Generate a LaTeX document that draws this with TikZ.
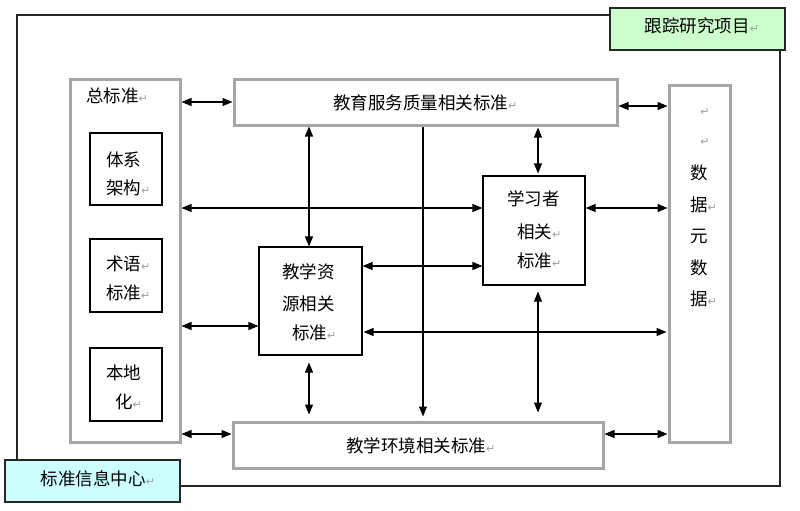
\documentclass[tikz,border=0pt]{standalone}
\usepackage{fontspec}
\newfontfamily\cjk{Noto Sans CJK SC}
\newfontfamily\dvs{DejaVu Sans}
\usetikzlibrary{arrows.meta}
\newcommand{\rt}{{\dvs\color{gray!75}\fontsize{11}{11}\selectfont ↵}}
\definecolor{boxgray}{HTML}{A6A6A6}
\definecolor{lgreen}{HTML}{CCFFCC}
\definecolor{lcyan}{HTML}{CCFFFF}
\begin{document}
\begin{tikzpicture}[x=1pt,y=-1pt,
  every node/.style={font=\cjk\fontsize{17.5}{17.5}\selectfont},
  txt/.style={inner sep=0pt, anchor=west},
  ctxt/.style={inner sep=0pt},
  graybox/.style={draw=boxgray, line width=3pt, fill=white, inner sep=0pt},
  blackbox/.style={draw=black, line width=1.1pt, fill=white, inner sep=0pt},
  tagbox/.style={draw=black!85, line width=1.2pt, inner sep=0pt, minimum width=175pt, minimum height=42pt},
  frame/.style={draw=black!85, line width=1.3pt, inner sep=0pt},
  dbl/.style={{Triangle[length=10pt,width=8pt]}-{Triangle[length=10pt,width=8pt]}, line width=1.1pt},
  sgl/.style={-{Triangle[length=10pt,width=8pt]}, line width=1.1pt}
]
\useasboundingbox (0,0) rectangle (800,511);
% outer frame
\node[frame, minimum width=763pt, minimum height=471pt] (frame) at (398.5,250.5) {};
% tags
\node[tagbox, fill=lgreen] (track) at (697.5,29) {};
\node[ctxt] (tracktxt) at (702,26) {跟踪研究项目\rt};
\node[tagbox, fill=lcyan] (center) at (92.5,481) {};
\node[ctxt] (centertxt) at (98,479) {标准信息中心\rt};

% main boxes
\node[graybox, minimum width=110pt, minimum height=363pt] (total) at (125,260.5) {};
\node[graybox, minimum width=383pt, minimum height=46pt] (top) at (425.5,102) {};
\node[graybox, minimum width=370pt, minimum height=46pt] (env) at (418,445) {};
\node[graybox, minimum width=61pt, minimum height=357pt] (data) at (699.5,263.5) {};
\node[blackbox, minimum width=102pt, minimum height=109pt] (learner) at (534,230.5) {};
\node[blackbox, minimum width=103pt, minimum height=108pt] (res) at (310.5,301) {};
\node[blackbox, minimum width=72pt, minimum height=72pt] (arch) at (126,169) {};
\node[blackbox, minimum width=72pt, minimum height=73pt] (term) at (126,275.5) {};
\node[blackbox, minimum width=72pt, minimum height=73pt] (local) at (126,384.5) {};

% texts
\node[txt] (t1) at (86,96) {总标准\rt};
\node[txt] (a1) at (106,160) {体系};
\node[txt] (a2) at (106,188) {架构\rt};
\node[txt] (s1) at (106,264) {术语\rt};
\node[txt] (s2) at (106,293) {标准\rt};
\node[txt] (l1) at (106,373) {本地};
\node[txt] (l2) at (115,402) {化\rt};
\node[txt] (toptxt) at (333,103) {教育服务质量相关标准\rt};
\node[txt] (envtxt) at (346,446) {教学环境相关标准\rt};
\node[txt] (le1) at (507,199) {学习者};
\node[txt] (le2) at (517,232) {相关\rt};
\node[txt] (le3) at (517,261) {标准\rt};
\node[txt] (r1) at (282,272) {教学资};
\node[txt] (r2) at (282,304) {源相关};
\node[txt] (r3) at (292,333) {标准\rt};
\node[ctxt] (d0) at (705,112) {\rt};
\node[ctxt] (d00) at (705,142) {\rt};
\node[ctxt] (d1) at (699,173) {数};
\node[txt] (d2) at (690,205) {据\rt};
\node[ctxt] (d3) at (699,237) {元};
\node[ctxt] (d4) at (699,268) {数};
\node[txt] (d5) at (690,299) {据\rt};

% helper coordinates
\coordinate (xl) at (423,0);
\coordinate (xr) at (309,0);
\coordinate (xa) at (538,0);
\coordinate (y208) at (0,208);
\coordinate (y266) at (0,266);
\coordinate (y326) at (0,326);
\coordinate (y332) at (0,332);
\coordinate (y434) at (0,434);
\coordinate (y106) at (0,106);

% connectors
\draw[dbl] (total.east |- top.west) -- (top.west);
\draw[dbl] (top.east |- y106) -- (data.west |- y106);
\draw[dbl] (total.east |- y208) -- (learner.west |- y208);
\draw[dbl] (learner.east |- y208) -- (data.west |- y208);
\draw[dbl] (top.south -| xr) -- (res.north -| xr);
\draw[dbl, shorten <=1pt, shorten >=2pt] (top.south -| xa) -- (learner.north -| xa);
\draw[sgl, shorten >=4pt] (top.south -| xl) -- (env.north -| xl);
\draw[dbl] (res.east |- y266) -- (learner.west |- y266);
\draw[dbl, shorten <=1pt, shorten >=1pt] (res.east |- y332) -- (data.west |- y332);
\draw[dbl] (total.east |- y326) -- (res.west |- y326);
\draw[dbl, shorten <=6pt, shorten >=8pt] (learner.south -| xa) -- (env.north -| xa);
\draw[dbl, shorten <=7pt, shorten >=6pt] (res.south -| xr) -- (env.north -| xr);
\draw[dbl] (total.east |- y434) -- (env.west |- y434);
\draw[dbl] (env.east |- y434) -- (data.west |- y434);
\end{tikzpicture}
\end{document}
